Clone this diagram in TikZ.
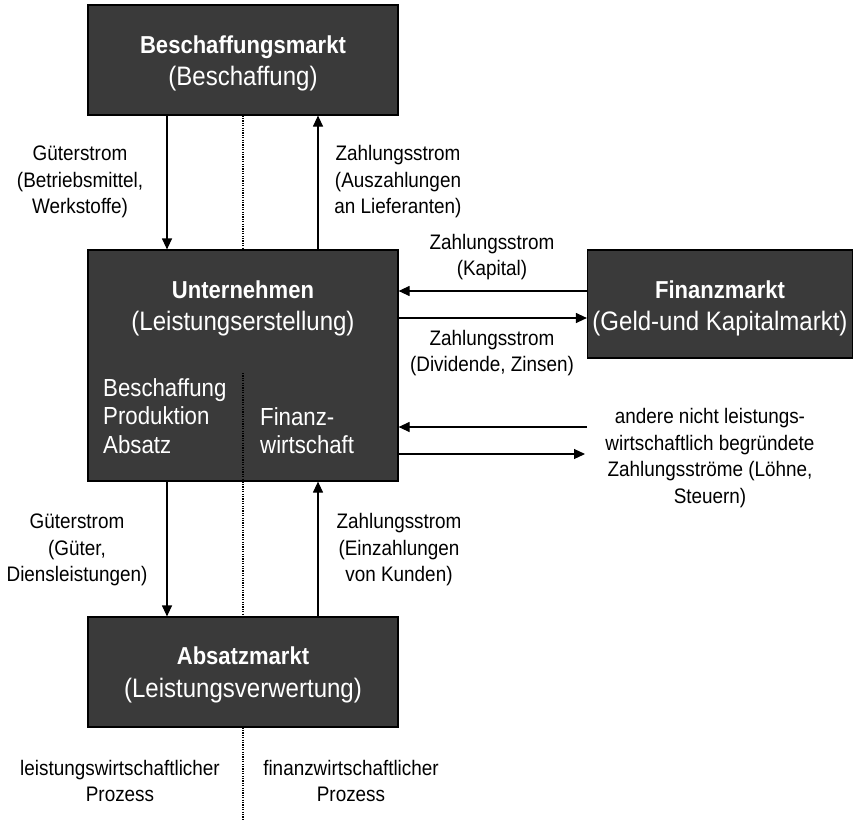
\documentclass[tikz,border=0pt]{standalone}
\usepackage{fontspec}
\setmainfont[FakeStretch=0.9]{Liberation Sans}
\usetikzlibrary{arrows.meta}
\definecolor{boxgray}{HTML}{3A3A3A}
\tikzset{
  box/.style={draw=black, line width=1.2pt, fill=boxgray, inner sep=0pt},
  inbox/.style={text=white, inner sep=0pt, align=center, font=\fontsize{26.7}{32.5}\selectfont},
  inlist/.style={text=white, inner sep=0pt, align=left, anchor=west, font=\fontsize{24.7}{28.5}\selectfont},
  lbl/.style={align=center, inner sep=0pt, font=\fontsize{21}{26.5}\selectfont},
  arr/.style={line width=1.2pt, -{Triangle[width=10pt,length=11pt]}},
  dots/.style={line width=1.1pt, dash pattern=on 1.1pt off 1.3pt},
}
\newcommand{\ttl}[1]{{\fontsize{24.5}{32.5}\selectfont\bfseries #1}}
\begin{document}
\begin{tikzpicture}[x=1pt,y=-1pt]
\useasboundingbox (0,0) rectangle (853,819);
% boxes
\node[box, minimum width=310, minimum height=110] (besch) at (243,60) {};
\node[box, minimum width=310, minimum height=231] (unt) at (243,365.5) {};
\node[box, minimum width=265, minimum height=108] (fin) at (720,304) {};
\node[box, minimum width=310, minimum height=110] (abs) at (243,672) {};
% box texts
\node[inbox] (beschT) at (243,63.5) {\ttl{Beschaffungsmarkt}\\(Beschaffung)};
\node[inbox] (finT) at (720,308.5) {\ttl{Finanzmarkt}\\(Geld-und Kapitalmarkt)};
\node[inbox] (absT) at (243,675) {\ttl{Absatzmarkt}\\(Leistungsverwertung)};
\node[inbox] (untT) at (243,308.5) {\ttl{Unternehmen}\\(Leistungserstellung)};
\node[inlist] (untl) at (103,416) {Beschaffung\\Produktion\\Absatz};
\node[inlist] (untr) at (260,430.5) {Finanz-\\wirtschaft};
% helper coordinates
\coordinate (gx) at (167,0);
\coordinate (zx) at (318,0);
\coordinate (ya) at (0,291);
\coordinate (yb) at (0,318);
\coordinate (oc) at (587,427);
\coordinate (od) at (585,454);
\coordinate (dl) at (243,373);
\coordinate (dend) at (243,819);
% vertical arrows
\draw[arr] (besch.south -| gx) -- (unt.north -| gx);
\draw[arr] (unt.north -| zx) -- (besch.south -| zx);
\draw[arr] (unt.south -| gx) -- (abs.north -| gx);
\draw[arr] (abs.north -| zx) -- (unt.south -| zx);
% horizontal arrows
\draw[arr] (fin.west |- ya) -- (unt.east |- ya);
\draw[arr] (unt.east |- yb) -- (fin.west |- yb);
\draw[arr] (oc) -- (unt.east |- oc);
\draw[arr] (unt.east |- od) -- (od);
% dotted separator
\draw[dots] (besch.south) -- (unt.north);
\draw[dots] (dl) -- (unt.south);
\draw[dots] (unt.south) -- (abs.north);
\draw[dots] (abs.south) -- (dend);
% labels
\node[lbl] (l1) at (80,182) {Güterstrom\\(Betriebsmittel,\\Werkstoffe)};
\node[lbl] (l2) at (398,182) {Zahlungsstrom\\(Auszahlungen\\an Lieferanten)};
\node[lbl] (l3) at (492,257) {Zahlungsstrom\\(Kapital)};
\node[lbl] (l4) at (492,353) {Zahlungsstrom\\(Dividende, Zinsen)};
\node[lbl] (l5) at (710,458) {andere nicht leistungs-\\wirtschaftlich begründete\\Zahlungsströme (Löhne,\\Steuern)};
\node[lbl] (l6) at (77,550) {Güterstrom\\(Güter,\\Diensleistungen)};
\node[lbl] (l7) at (399,550) {Zahlungsstrom\\(Einzahlungen\\von Kunden)};
\node[lbl] (l8) at (120,781) {leistungswirtschaftlicher\\Prozess};
\node[lbl] (l9) at (351,781) {finanzwirtschaftlicher\\Prozess};
\end{tikzpicture}
\end{document}
